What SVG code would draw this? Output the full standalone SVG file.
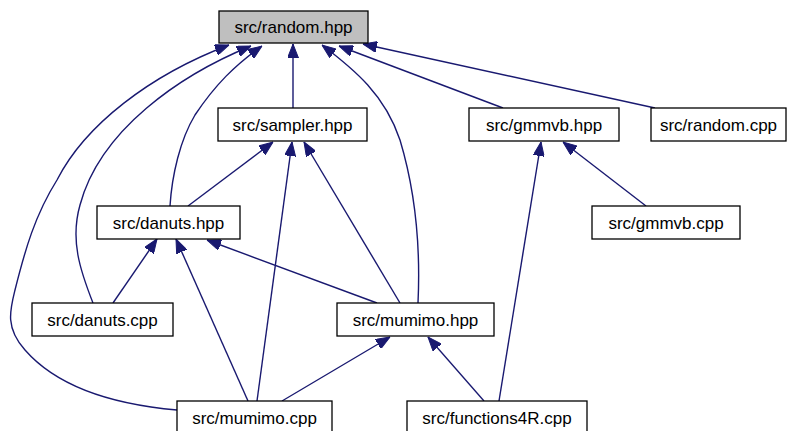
<svg xmlns="http://www.w3.org/2000/svg" width="787" height="431" viewBox="0 0 787 431">
  <style>
    .node rect { fill: #ffffff; stroke: #000000; stroke-width: 1.3; }
    .node.root rect { fill: #bfbfbf; }
    .node text { font-family: "Liberation Sans", Arial, sans-serif; font-size: 17px; fill: #000000; text-anchor: middle; }
    .edges path { fill: none; stroke: #191970; stroke-width: 1.4; marker-end: url(#arrow); }
  </style>
  <defs>
    <marker id="arrow" markerUnits="userSpaceOnUse" viewBox="0 0 14 11" refX="14" refY="5.5" markerWidth="14" markerHeight="11" orient="auto">
      <path d="M0,0 L14,5.5 L0,11 Z" fill="#191970" stroke="#191970" stroke-width="1"/>
    </marker>
  </defs>

  <!-- include edges: dependent file -> included header -->
  <g id="edges" class="edges">
    <path d="M293,108 L293,44"/>
    <path d="M170,206 C172,175 180,140 195,115 C215,85 235,65 262,46"/>
    <path d="M93,303 C80,270 70,240 80,205 C100,130 180,75 251,46"/>
    <path d="M177,410 C120,405 60,390 25,350 C5,328 10,310 15,290 C25,250 35,215 57,180 C85,125 150,75 229,45"/>
    <path d="M418,303 C420,260 418,200 400,140 C385,95 355,70 322,45"/>
    <path d="M503,108 L339,46"/>
    <path d="M655,108 L363,44"/>
    <path d="M188,206 L273,142"/>
    <path d="M257,401 L292,142"/>
    <path d="M400,303 L304,142"/>
    <path d="M113,303 L157,239"/>
    <path d="M248,401 L176,239"/>
    <path d="M377,303 L207,240"/>
    <path d="M282,401 L390,337"/>
    <path d="M484,401 L428,337"/>
    <path d="M499,401 L541,142"/>
    <path d="M646,206 L563,142"/>
  </g>

  <g id="node-random-hpp" class="node root">
    <rect x="219" y="11" width="149" height="32"/>
    <text x="293.5" y="33">src/random.hpp</text>
  </g>
  <g id="node-sampler-hpp" class="node">
    <rect x="218" y="108" width="149" height="33"/>
    <text x="292.5" y="130.5">src/sampler.hpp</text>
  </g>
  <g id="node-gmmvb-hpp" class="node">
    <rect x="469" y="108" width="150" height="33"/>
    <text x="544" y="130.5">src/gmmvb.hpp</text>
  </g>
  <g id="node-random-cpp" class="node">
    <rect x="651" y="108" width="135" height="33"/>
    <text x="718.5" y="130.5">src/random.cpp</text>
  </g>
  <g id="node-danuts-hpp" class="node">
    <rect x="97" y="206" width="143" height="33"/>
    <text x="168.5" y="228.5">src/danuts.hpp</text>
  </g>
  <g id="node-gmmvb-cpp" class="node">
    <rect x="592" y="206" width="148" height="33"/>
    <text x="666" y="228.5">src/gmmvb.cpp</text>
  </g>
  <g id="node-danuts-cpp" class="node">
    <rect x="32" y="303" width="141" height="33"/>
    <text x="102.5" y="325.5">src/danuts.cpp</text>
  </g>
  <g id="node-mumimo-hpp" class="node">
    <rect x="337" y="303" width="157" height="33"/>
    <text x="415.5" y="325.5">src/mumimo.hpp</text>
  </g>
  <g id="node-mumimo-cpp" class="node">
    <rect x="177" y="401" width="155" height="33"/>
    <text x="254.5" y="423.5">src/mumimo.cpp</text>
  </g>
  <g id="node-functions4R-cpp" class="node">
    <rect x="407" y="401" width="180" height="33"/>
    <text x="497" y="423.5">src/functions4R.cpp</text>
  </g>
</svg>
